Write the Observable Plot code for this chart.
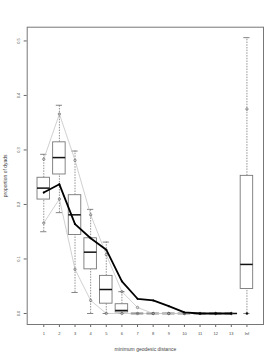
<!DOCTYPE html>
<html>
<head>
<meta charset="utf-8">
<script src="https://cdn.jsdelivr.net/npm/d3@7"></script>
<script src="https://cdn.jsdelivr.net/npm/@observablehq/plot@0.6"></script>
<style>
  html, body { margin: 0; padding: 0; background: #fff; }
  #chart svg { display: block; }
  #chart svg text { -webkit-font-smoothing: antialiased; }
</style>
</head>
<body>
<div id="chart"></div>
<script>
const categories = ["1","2","3","4","5","6","7","8","9","10","11","12","13","Inf"];
const lowerWhisker = [0.150, 0.185, 0.0385, 0.000, 0.000, 0.000, 0, 0, 0, 0, 0, 0, 0, 0.000];
const q1Values     = [0.209, 0.255, 0.144, 0.081, 0.018, 0.002, 0, 0, 0, 0, 0, 0, 0, 0.045];
const medianValues = [0.230, 0.286, 0.181, 0.1125, 0.044, 0.0055, 0, 0, 0, 0, 0, 0, 0, 0.090];
const q3Values     = [0.249, 0.314, 0.217, 0.138, 0.069, 0.017, 0, 0, 0, 0, 0, 0, 0, 0.2525];
const upperWhisker = [0.292, 0.382, 0.298, 0.191, 0.131, 0.040, 0, 0, 0, 0, 0, 0, 0, 0.506];
const lowerBound   = [0.166, 0.210, 0.081, 0.024, 0.000, 0.000, 0, 0, 0, 0, 0, 0, 0, 0.000];
const upperBound   = [0.283, 0.366, 0.281, 0.181, 0.108, 0.040, 0.011, 0, 0, 0, 0, 0, 0, 0.375];
const observed     = [0.222, 0.237, 0.164, 0.138, 0.117, 0.059, 0.027, 0.024, 0.0134, 0.002, 0, 0, 0, 0];
const yTicks = [0, 0.1, 0.2, 0.3, 0.4, 0.5];

const rows = categories.map((c, i) => ({
  cat: c, pos: i + 1,
  lw: lowerWhisker[i], q1: q1Values[i], med: medianValues[i], q3: q3Values[i], uw: upperWhisker[i],
  lb: lowerBound[i], ub: upperBound[i], obs: observed[i]
}));
const finite = rows.filter(d => d.cat !== "Inf");

const font = "'Liberation Sans', Arial, Helvetica, sans-serif";

const chart = Plot.plot({
  width: 277,
  height: 358,
  marginLeft: 26.7,
  marginRight: 14,
  marginTop: 26.7,
  marginBottom: 34,
  style: { fontFamily: font, fontSize: "4px", background: "#fff", color: "#444" },
  x: { type: "linear", domain: [-0.06, 15.06] },
  y: { domain: [-0.0202, 0.5252] },
  marks: [
    // whiskers
    Plot.ruleX(rows, { x: "pos", y1: "q3", y2: "uw", stroke: "#777", strokeWidth: 0.8, strokeDasharray: "1.5,1.2" }),
    Plot.ruleX(rows, { x: "pos", y1: "lw", y2: "q1", stroke: "#777", strokeWidth: 0.8, strokeDasharray: "1.5,1.2" }),
    // staples
    Plot.ruleY(rows, { y: "uw", x1: d => d.pos - 0.2, x2: d => d.pos + 0.2, stroke: "#666", strokeWidth: 0.8 }),
    Plot.ruleY(rows, { y: "lw", x1: d => d.pos - 0.2, x2: d => d.pos + 0.2, stroke: "#666", strokeWidth: 0.8 }),
    // boxes
    Plot.rect(rows, { x1: d => d.pos - 0.4, x2: d => d.pos + 0.4, y1: "q1", y2: "q3", fill: "#fff", stroke: "#777", strokeWidth: 0.9 }),
    // medians
    Plot.ruleY(rows, { y: "med", x1: d => d.pos - 0.4, x2: d => d.pos + 0.4, stroke: "#111", strokeWidth: 1.5 }),
    // bounds
    Plot.line(finite, { x: "pos", y: "ub", stroke: "#c4c4c4", strokeWidth: 0.8 }),
    Plot.line(finite, { x: "pos", y: "lb", stroke: "#c4c4c4", strokeWidth: 0.8 }),
    Plot.dot(rows, { x: "pos", y: "ub", r: 1.2, stroke: "#555", strokeWidth: 0.6 }),
    Plot.dot(rows, { x: "pos", y: "lb", r: 1.2, stroke: "#555", strokeWidth: 0.6 }),
    // observed
    Plot.line(finite, { x: "pos", y: "obs", stroke: "#000", strokeWidth: 1.8 }),
    Plot.dot(rows, { x: "pos", y: "obs", r: 1, fill: "#000" }),
    // axes
    Plot.axisX({
      ticks: rows.map(d => d.pos),
      tickFormat: v => categories[Math.round(v) - 1],
      tickSize: 3, tickPadding: 5, stroke: "#666", fill: "#444",
      label: null
    }),
    Plot.axisX({
      ticks: [], tickSize: 0,
      label: "minimum geodesic distance", labelAnchor: "center", labelArrow: "none",
      labelOffset: 26.5, fontSize: "5px", fill: "#444"
    }),
    Plot.axisY({
      ticks: yTicks,
      tickFormat: d3.format(".1f"),
      tickSize: 3, tickPadding: 4, tickRotate: -90, stroke: "#666", fill: "#444",
      label: null
    }),
    Plot.axisY({
      ticks: [], tickSize: 0,
      label: "proportion of dyads", labelAnchor: "center", labelArrow: "none",
      labelOffset: 24, fontSize: "5px", fill: "#444"
    }),
    Plot.frame({ stroke: "#777", strokeWidth: 1 })
  ]
});
document.getElementById("chart").appendChild(chart);
</script>
</body>
</html>
